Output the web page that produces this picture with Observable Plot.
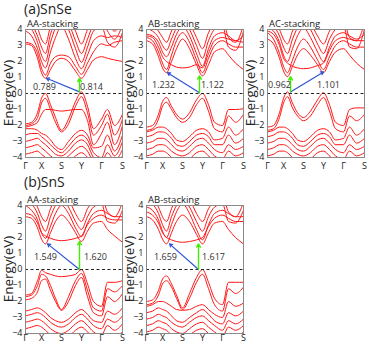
<!DOCTYPE html>
<html><head><meta charset="utf-8">
<script src="https://cdn.jsdelivr.net/npm/d3@7"></script>
<script src="https://cdn.jsdelivr.net/npm/@observablehq/plot@0.6"></script>
<style>
body{margin:0;background:#fff;}
#root{position:relative;width:369px;height:345px;font-family:"Open Sans",sans-serif;color:#222;overflow:hidden;}
.p{position:absolute;overflow:visible;}
.t{position:absolute;white-space:nowrap;line-height:1.25;}
.ylab{position:absolute;white-space:nowrap;font-size:13.5px;line-height:1;transform:translate(-50%,-50%) rotate(-90deg);}
</style></head><body><div id="root"></div>
<script>
// k-path sample positions (Γ=0, X=16, S=36, Y=56, Γ=76, S=97)
const kPath = [0, 6, 12, 16, 20, 25, 30, 36, 43, 50, 56, 62, 68, 76, 82, 89, 97];
const kTicks = [0, 16, 36, 56, 76, 97];
const kLabels = ["Γ", "X", "S", "Y", "Γ", "S"];
const eTicks = [-4, -3, -2, -1, 0, 1, 2, 3, 4];

// (a) SnSe AA-stacking
const snseAA = [
  [3.1, 3.0, 2.2, 1.3, 0.95, 1.5, 2.0, 2.2, 2.0, 1.4, 0.95, 1.5, 2.1, 2.3, 2.2, 2.1, 2.0],
  [3.2, 3.1, 2.5, 1.6, 1.15, 1.9, 2.3, 2.4, 2.3, 1.7, 1.2, 1.9, 2.6, 3.1, 3.0, 3.2, 3.3],
  [3.9, 3.6, 2.8, 2.0, 1.6, 2.6, 3.5, 4.2, 3.4, 2.2, 1.55, 2.4, 3.3, 3.6, 3.5, 3.6, 3.5],
  [4.2, 4.0, 3.2, 2.4, 2.0, 3.2, 4.1, 4.5, 4.0, 2.8, 1.95, 2.9, 3.9, 4.2, 3.2, 2.9, 3.8],
  [4.5, 4.3, 3.6, 2.9, 2.5, 3.7, 4.5, 4.8, 4.4, 3.3, 2.5, 3.4, 4.3, 4.6, 3.9, 3.4, 4.3],
  [4.8, 4.6, 4.1, 3.4, 3.1, 4.2, 4.8, 5.0, 4.8, 3.9, 3.1, 4.0, 4.7, 5.0, 4.4, 3.9, 4.6],
  [-1.9, -1.8, -1.2, -0.3, 0.0, -0.7, -1.5, -2.3, -1.6, -0.5, 0.1, -0.8, -2.2, -1.6, -1.0, -2.0, -1.3],
  [-2.0, -1.9, -1.5, -0.6, -0.3, -1.0, -1.8, -2.4, -1.9, -0.8, -0.2, -1.2, -2.6, -2.0, -1.3, -2.6, -1.6],
  [-2.1, -2.0, -1.8, -1.3, -1.0, -1.0, -1.05, -1.1, -1.05, -1.0, -1.0, -1.7, -3.2, -2.5, -1.8, -3.2, -2.0],
  [-2.2, -2.2, -2.3, -2.5, -2.6, -2.9, -3.3, -3.5, -3.0, -2.5, -2.3, -2.6, -3.4, -3.3, -2.6, -3.6, -2.6],
  [-2.6, -2.5, -2.5, -2.7, -2.9, -3.2, -3.5, -3.7, -3.3, -2.8, -2.6, -2.9, -3.7, -4.0, -3.2, -3.9, -3.0],
  [-3.0, -2.9, -2.8, -3.0, -3.2, -3.5, -3.8, -3.9, -3.6, -3.1, -2.9, -3.2, -4.0, -4.3, -3.7, -4.2, -3.5],
  [-3.4, -3.3, -3.2, -3.4, -3.6, -3.9, -4.1, -4.2, -3.9, -3.5, -3.3, -3.6, -4.3, -4.6, -4.1, -4.5, -3.9],
  [-3.8, -3.7, -3.6, -3.8, -4.0, -4.3, -4.5, -4.6, -4.3, -3.9, -3.7, -4.0, -4.6, -4.8, -4.5, -4.8, -4.3]
];
// (a) SnSe AB-stacking
const snseAB = [
  [3.3, 3.1, 2.3, 1.6, 1.3, 2.0, 2.8, 3.4, 2.8, 1.8, 1.1, 1.8, 2.6, 2.8, 2.4, 1.9, 1.5],
  [3.5, 3.3, 2.6, 1.9, 1.5, 2.4, 3.3, 3.8, 3.2, 2.1, 1.3, 2.2, 3.0, 3.3, 3.1, 2.9, 2.9],
  [3.6, 3.5, 2.9, 2.3, 2.0, 1.8, 1.65, 1.6, 1.65, 1.8, 1.6, 2.5, 3.3, 3.5, 3.4, 3.3, 3.2],
  [3.7, 3.6, 3.2, 2.6, 2.3, 2.9, 3.7, 4.2, 3.6, 2.5, 1.7, 2.8, 3.6, 3.8, 3.6, 3.3, 3.6],
  [4.1, 3.9, 3.5, 3.0, 2.7, 3.4, 4.1, 4.5, 4.0, 3.0, 2.2, 3.3, 4.0, 4.2, 2.9, 2.7, 3.9],
  [4.5, 4.3, 3.9, 3.5, 3.2, 3.9, 4.5, 4.8, 4.4, 3.5, 2.8, 3.8, 4.4, 4.6, 3.5, 3.2, 4.3],
  [-2.1, -2.0, -1.3, -0.5, -0.25, -0.8, -1.3, -1.6, -1.2, -0.4, 0.0, -0.7, -1.8, -2.0, -1.0, -1.0, -0.95],
  [-2.3, -2.2, -1.6, -0.8, -0.55, -1.0, -1.5, -1.8, -1.5, -0.7, -0.3, -1.1, -2.2, -2.4, -1.4, -1.8, -1.3],
  [-2.4, -2.3, -2.1, -2.1, -2.2, -2.5, -2.9, -3.0, -2.7, -2.3, -2.2, -2.4, -2.9, -2.8, -2.1, -2.6, -2.2],
  [-2.7, -2.6, -2.4, -2.4, -2.5, -2.8, -3.2, -3.3, -3.0, -2.6, -2.5, -2.7, -3.2, -3.2, -2.6, -3.1, -2.8],
  [-3.1, -3.0, -2.8, -2.8, -2.9, -3.2, -3.5, -3.6, -3.3, -2.9, -2.8, -3.1, -3.5, -3.7, -3.2, -3.5, -3.3],
  [-3.5, -3.4, -3.2, -3.2, -3.3, -3.6, -3.8, -3.9, -3.7, -3.3, -3.2, -3.5, -3.9, -4.1, -3.6, -3.9, -3.7],
  [-3.9, -3.8, -3.6, -3.6, -3.7, -4.0, -4.2, -4.3, -4.1, -3.7, -3.6, -3.9, -4.3, -4.5, -4.0, -4.3, -4.1]
];
// (a) SnSe AC-stacking
const snseAC = [
  [3.4, 3.1, 2.2, 1.4, 1.05, 1.7, 2.4, 2.8, 2.4, 1.8, 1.3, 2.0, 2.6, 2.8, 2.4, 1.9, 1.5],
  [3.8, 3.4, 2.5, 1.7, 1.3, 2.1, 2.9, 3.4, 2.9, 2.1, 1.5, 2.3, 3.0, 3.3, 3.1, 2.9, 2.9],
  [3.9, 3.7, 3.0, 2.2, 1.9, 1.7, 1.6, 1.55, 1.6, 1.75, 1.9, 2.7, 3.3, 3.5, 3.4, 3.3, 3.3],
  [4.1, 3.9, 3.2, 2.4, 2.0, 2.8, 3.6, 4.1, 3.5, 2.6, 2.0, 2.9, 3.6, 3.8, 3.6, 3.4, 3.7],
  [4.4, 4.2, 3.6, 2.9, 2.5, 3.4, 4.1, 4.5, 4.0, 3.1, 2.5, 3.4, 4.0, 4.2, 2.9, 2.8, 4.0],
  [4.7, 4.5, 4.0, 3.4, 3.1, 3.9, 4.5, 4.8, 4.4, 3.6, 3.1, 3.9, 4.4, 4.6, 3.5, 3.3, 4.4],
  [-2.1, -2.0, -1.2, -0.3, 0.1, -0.6, -1.2, -1.5, -1.1, -0.4, 0.05, -0.7, -1.8, -2.0, -1.0, -0.9, -0.9],
  [-2.3, -2.2, -1.5, -0.6, -0.2, -0.9, -1.4, -1.7, -1.4, -0.7, -0.25, -1.1, -2.2, -2.4, -1.4, -1.7, -1.3],
  [-2.4, -2.3, -2.1, -2.1, -2.2, -2.5, -2.9, -3.0, -2.7, -2.3, -2.2, -2.4, -2.9, -2.8, -2.1, -2.6, -2.2],
  [-2.7, -2.6, -2.4, -2.4, -2.5, -2.8, -3.2, -3.3, -3.0, -2.6, -2.5, -2.7, -3.2, -3.2, -2.6, -3.1, -2.8],
  [-3.1, -3.0, -2.8, -2.8, -2.9, -3.2, -3.5, -3.6, -3.3, -2.9, -2.8, -3.1, -3.5, -3.7, -3.2, -3.5, -3.3],
  [-3.5, -3.4, -3.2, -3.2, -3.3, -3.6, -3.8, -3.9, -3.7, -3.3, -3.2, -3.5, -3.9, -4.1, -3.6, -3.9, -3.7],
  [-3.9, -3.8, -3.6, -3.6, -3.7, -4.0, -4.2, -4.3, -4.1, -3.7, -3.6, -3.9, -4.3, -4.5, -4.0, -4.3, -4.1]
];
// (b) SnS AA-stacking
const snsAA = [
  [3.3, 3.2, 2.6, 1.9, 1.6, 2.3, 3.0, 3.4, 3.0, 2.3, 1.75, 2.4, 2.9, 3.0, 2.5, 2.1, 1.7],
  [3.5, 3.4, 2.9, 2.3, 2.1, 1.95, 1.85, 1.8, 1.85, 1.95, 2.1, 2.8, 3.2, 3.4, 3.2, 3.1, 3.1],
  [4.0, 3.7, 3.1, 2.3, 1.95, 2.7, 3.5, 4.0, 3.5, 2.6, 2.05, 2.9, 3.5, 3.7, 3.5, 3.3, 3.3],
  [4.3, 4.1, 3.5, 2.8, 2.4, 3.3, 4.0, 4.4, 3.9, 3.0, 2.5, 3.3, 3.9, 4.1, 3.0, 2.9, 3.7],
  [4.7, 4.5, 3.9, 3.3, 3.0, 3.8, 4.5, 4.8, 4.4, 3.5, 3.0, 3.8, 4.3, 4.6, 3.6, 3.3, 4.2],
  [-1.6, -1.5, -0.7, -0.05, -0.2, -0.3, -0.4, -0.45, -0.4, -0.3, 0.0, -0.9, -2.0, -2.3, -0.8, -0.8, -0.7],
  [-1.7, -1.6, -1.0, -0.3, -0.4, -1.0, -1.8, -2.5, -1.7, -0.7, -0.25, -1.3, -2.4, -2.6, -1.2, -1.4, -1.0],
  [-1.9, -1.8, -1.4, -0.7, -0.6, -1.3, -2.0, -2.55, -2.0, -1.0, -0.5, -1.7, -2.7, -2.9, -1.7, -2.0, -1.5],
  [-2.6, -2.5, -2.4, -2.5, -2.7, -3.0, -3.2, -3.3, -3.1, -2.7, -2.5, -2.8, -3.2, -3.3, -2.6, -2.8, -2.4],
  [-2.9, -2.8, -2.7, -2.8, -3.0, -3.3, -3.5, -3.6, -3.4, -3.0, -2.8, -3.1, -3.5, -3.7, -3.1, -3.3, -2.9],
  [-3.3, -3.2, -3.1, -3.2, -3.4, -3.7, -3.9, -4.0, -3.8, -3.4, -3.2, -3.5, -3.9, -4.1, -3.5, -3.8, -3.4],
  [-3.7, -3.6, -3.5, -3.6, -3.8, -4.1, -4.3, -4.4, -4.2, -3.8, -3.6, -3.9, -4.3, -4.5, -4.0, -4.2, -3.9]
];
// (b) SnS AB-stacking
const snsAB = [
  [3.3, 3.1, 2.5, 1.9, 1.6, 2.3, 3.0, 3.4, 3.0, 2.2, 1.6, 2.3, 2.9, 3.0, 2.5, 2.0, 1.6],
  [3.6, 3.4, 2.9, 2.3, 2.0, 1.85, 1.75, 1.7, 1.75, 1.85, 2.0, 2.7, 3.2, 3.4, 3.2, 3.0, 3.0],
  [3.9, 3.7, 3.1, 2.4, 2.0, 2.8, 3.6, 4.1, 3.5, 2.5, 1.85, 2.8, 3.5, 3.7, 3.5, 3.3, 3.3],
  [4.3, 4.1, 3.5, 2.8, 2.4, 3.3, 4.0, 4.4, 3.9, 3.0, 2.4, 3.3, 3.9, 4.1, 3.0, 2.9, 3.7],
  [4.7, 4.5, 3.9, 3.3, 3.0, 3.8, 4.5, 4.8, 4.4, 3.5, 3.0, 3.8, 4.3, 4.6, 3.6, 3.3, 4.2],
  [-2.0, -1.9, -1.3, -0.6, -0.4, -0.9, -1.6, -2.4, -1.5, -0.5, 0.0, -0.8, -1.8, -2.2, -0.8, -0.8, -0.8],
  [-2.2, -2.1, -1.6, -0.9, -0.7, -1.1, -1.8, -2.5, -1.8, -0.8, -0.3, -1.2, -2.2, -2.6, -1.2, -1.5, -1.1],
  [-2.3, -2.2, -2.0, -2.0, -2.1, -2.3, -2.5, -2.55, -2.5, -2.3, -2.2, -2.5, -2.8, -3.0, -2.0, -2.3, -2.1],
  [-2.7, -2.6, -2.4, -2.5, -2.6, -2.9, -3.2, -3.3, -3.0, -2.7, -2.5, -2.8, -3.2, -3.4, -2.7, -2.9, -2.6],
  [-3.1, -3.0, -2.8, -2.9, -3.0, -3.3, -3.5, -3.6, -3.3, -3.0, -2.9, -3.2, -3.5, -3.8, -3.2, -3.4, -3.1],
  [-3.5, -3.4, -3.2, -3.3, -3.4, -3.7, -3.9, -4.0, -3.7, -3.4, -3.3, -3.6, -3.9, -4.2, -3.6, -3.8, -3.5],
  [-3.9, -3.8, -3.6, -3.7, -3.8, -4.1, -4.3, -4.4, -4.1, -3.8, -3.7, -4.0, -4.3, -4.6, -4.0, -4.2, -3.9]
];

// gap arrows: [kStart, eStart, kEnd, eEnd]
const blueArrows = [[54, 0.1, 21, 0.95], [53, 0.05, 21, 1.3], [23, 0.1, 56, 1.35], [54, 0.0, 22, 1.6], [52, 0.0, 23, 1.6]];
const greenArrows = [[54, 0.1, 54, 0.95], [53, 0.05, 53, 1.1], [23, 0.1, 23, 1.05], [54, 0.0, 54, 1.75], [52, 0.0, 52, 1.6]];
const gapLeft = ["0.789", "1.232", "0.962", "1.549", "1.659"];
const gapRight = ["0.814", "1.122", "1.101", "1.620", "1.617"];
const gapLeftK = [19, 17, 12, 20, 19];
const gapRightK = [66, 66, 61, 70, 67];
const gapLabelE = [0.38, 0.5, 0.55, 0.75, 0.75];

const panelBands = [snseAA, snseAB, snseAC, snsAA, snsAB];
const panelNames = ["AA-stacking", "AB-stacking", "AC-stacking", "AA-stacking", "AB-stacking"];
const panelPos = [[0, 21], [121, 21], [242, 21], [0, 197], [121, 197]];

const root = document.getElementById("root");
function addText(txt, x, y, size, cls) {
  const d = document.createElement("div");
  d.className = cls || "t";
  d.textContent = txt;
  d.style.left = x + "px"; d.style.top = y + "px"; d.style.fontSize = size + "px";
  root.appendChild(d);
  return d;
}

panelBands.forEach((bands, p) => {
  const data = bands.flatMap((arr, b) => arr.map((E, i) => ({k: kPath[i], E, band: b})));
  const ba = blueArrows[p], ga = greenArrows[p];
  const bottomRow = p >= 3;
  const chart = Plot.plot({
    width: 128, height: bottomRow ? 147 : 152,
    marginLeft: 25, marginRight: 6, marginTop: 8, marginBottom: bottomRow ? 11 : 16,
    style: {fontFamily: "Open Sans, sans-serif", fontSize: "9px", color: "#222", background: "transparent", overflow: "visible"},
    x: {domain: [0, 97], ticks: kTicks, tickFormat: d => kLabels[kTicks.indexOf(d)], tickSize: 0, tickPadding: bottomRow ? 1.5 : 5, label: null},
    y: {domain: [-4, 4], ticks: eTicks, tickSize: 0, tickPadding: 3, label: null},
    marks: [
      Plot.line(data, {x: "k", y: "E", z: "band", stroke: "#ff1414", strokeWidth: 1, curve: "monotone-x", clip: true}),
      Plot.ruleY([0], {stroke: "#222", strokeWidth: 1, strokeDasharray: "3,2.5"}),
      Plot.arrow([ba], {x1: d => d[0], y1: d => d[1], x2: d => d[2], y2: d => d[3], stroke: "#2f55d4", strokeWidth: 1.2, headLength: 4, bend: 0}),
      Plot.arrow([ga], {x1: d => d[0], y1: d => d[1], x2: d => d[2], y2: d => d[3], stroke: "#44ee00", strokeWidth: 1.4, headLength: 4, bend: 0}),
      Plot.text([gapLeft[p]], {x: gapLeftK[p], y: gapLabelE[p], text: d => d, fill: "#333", fontSize: 9}),
      Plot.text([gapRight[p]], {x: gapRightK[p], y: gapLabelE[p], text: d => d, fill: "#333", fontSize: 9}),
      Plot.frame({stroke: "#8a8a8a", strokeWidth: 1})
    ]
  });
  chart.classList.add("p");
  chart.style.left = panelPos[p][0] + "px";
  chart.style.top = panelPos[p][1] + "px";
  root.appendChild(chart);
  addText(panelNames[p], panelPos[p][0] + 27, panelPos[p][1] - 3, 9.5);
  addText("Energy(eV)", panelPos[p][0] + 9, panelPos[p][1] + 72, 13.5, "ylab");
});
addText("(a)SnSe", 24, 0, 14);
addText("(b)SnS", 24, 173, 14);
</script></body></html>
